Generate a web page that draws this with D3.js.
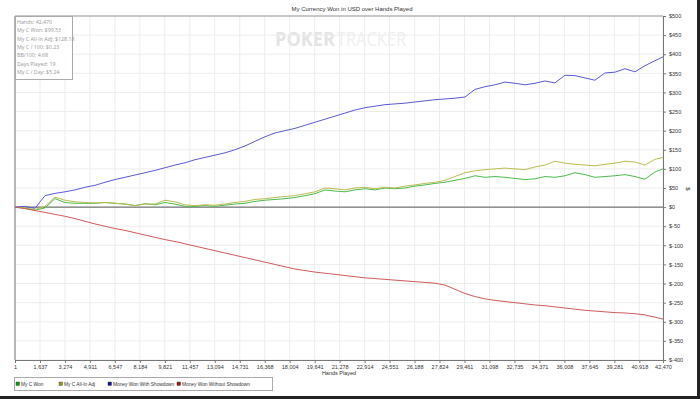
<!DOCTYPE html>
<html>
<head>
<meta charset="utf-8">
<script src="https://cdn.jsdelivr.net/npm/d3@7"></script>
<style>
  body { margin: 0; background: #fff; }
  svg { display: block; font-family: "Liberation Sans", Arial, sans-serif; }
</style>
</head>
<body>
<div id="chart"></div>
<script>
// hands sampled along the x axis
var hands = [1, 656, 1312, 1967, 2622, 3278, 3933, 4588, 5244, 5899, 6554, 7210, 7865, 8520, 9176, 9831,
    10486, 11142, 11797, 12452, 13108, 13763, 14418, 15074, 15729, 16384, 17040, 17695, 18350, 19006, 19661,
    20316, 20972, 21627, 22282, 22938, 23593, 24248, 24904, 25559, 26214, 26870, 27525, 28180, 28836, 29491,
    30146, 30802, 31457, 32112, 32768, 33423, 34078, 34734, 35389, 36044, 36700, 37355, 38010, 38666, 39321,
    39976, 40632, 41287, 41942, 42470];

var myCWon = [0, -3, -8, -2, 22, 12, 10, 10, 10, 12, 10, 8, 4, 9, 6, 12, 8, 2, 2, 4, 2, 5, 8, 10, 15, 18,
    20, 22, 25, 30, 35, 45, 42, 40, 45, 48, 45, 50, 48, 50, 55, 58, 62, 65, 70, 75, 82, 78, 80, 78, 75, 72,
    74, 80, 78, 82, 90, 85, 78, 80, 82, 85, 80, 73, 92, 100];

var myCAllInAdj = [0, -2, -6, 2, 26, 18, 14, 12, 11, 12, 10, 8, 4, 8, 8, 18, 14, 6, 4, 6, 5, 8, 12, 15, 20,
    22, 25, 28, 30, 35, 40, 50, 48, 45, 50, 52, 48, 52, 50, 55, 58, 62, 65, 70, 80, 90, 95, 98, 100, 102,
    100, 98, 105, 110, 120, 115, 112, 110, 108, 112, 115, 120, 118, 110, 125, 130];

var wonWithShowdown = [0, 2, -3, 30, 36, 40, 45, 52, 57, 65, 72, 78, 84, 90, 96, 103, 110, 116, 124, 130,
    136, 142, 150, 160, 172, 184, 194, 200, 206, 214, 222, 230, 238, 246, 254, 260, 264, 268, 270, 272, 275,
    278, 281, 283, 285, 288, 308, 315, 320, 327, 324, 320, 324, 330, 325, 345, 344, 338, 332, 351, 353, 362,
    354, 370, 383, 393];

var wonWithoutShowdown = [0, -4, -9, -14, -19, -24, -30, -37, -44, -50, -56, -61, -67, -73, -79, -85, -90,
    -96, -102, -108, -114, -120, -126, -132, -138, -144, -150, -156, -162, -166, -170, -173, -176, -179, -182,
    -185, -187, -189, -191, -193, -195, -197, -199, -204, -215, -226, -234, -240, -244, -247, -250, -253,
    -256, -258, -261, -264, -267, -270, -272, -274, -276, -277, -279, -282, -288, -293];

var xTicks = [1, 1637, 3274, 4911, 6547, 8184, 9821, 11457, 13094, 14731, 16368, 18004, 19641, 21278, 22914,
    24551, 26188, 27824, 29461, 31098, 32735, 34371, 36008, 37645, 39281, 40918, 42470];
var yTicks = [500, 450, 400, 350, 300, 250, 200, 150, 100, 50, 0, -50, -100, -150, -200, -250, -300, -350, -400];

var statLines = ["Hands: 42,470", "My C Won: $99.53", "My C All-In Adj: $128.18", "My C / 100: $0.23",
    "BB/100: 4.68", "Days Played: 19", "My C / Day: $5.24"];

var seriesNames = ["My C Won", "My C All-In Adj", "Money Won With Showdown", "Money Won Without Showdown"];
var seriesData = [myCWon, myCAllInAdj, wonWithShowdown, wonWithoutShowdown];
var lineColors = ["#4cbc4c", "#bcbc50", "#5a5ad2", "#d05a5a"];
var keyColors = ["#119911", "#999911", "#1111aa", "#aa1111"];

var width = 700, height = 399;
var plot = {left: 15, right: 663, top: 16, bottom: 360};

var x = d3.scaleLinear().domain([1, 42470]).range([plot.left, plot.right]);
var y = d3.scaleLinear().domain([-400, 500]).range([plot.bottom, plot.top]);

var svg = d3.select("#chart").append("svg")
    .attr("width", width)
    .attr("height", height);

svg.append("rect").attr("width", width).attr("height", height).attr("fill", "#fff");

// watermark
svg.append("text")
    .attr("x", 275).attr("y", 46)
    .attr("textLength", 60).attr("lengthAdjust", "spacingAndGlyphs")
    .attr("fill", "#e4e4e4")
    .style("font-size", "20px").style("font-weight", "bold")
    .style("font-family", "'Open Sans', 'Liberation Sans', sans-serif")
    .text("POKER");
svg.append("text")
    .attr("x", 337).attr("y", 46)
    .attr("textLength", 69).attr("lengthAdjust", "spacingAndGlyphs")
    .attr("fill", "#efefef")
    .style("font-size", "20px")
    .style("font-family", "'Open Sans', 'Liberation Sans', sans-serif")
    .text("TRACKER");

// grid
svg.append("g").selectAll("line").data(xTicks).enter().append("line")
    .attr("x1", function(d) { return x(d); }).attr("x2", function(d) { return x(d); })
    .attr("y1", plot.top).attr("y2", plot.bottom)
    .attr("stroke", "#ececec").attr("stroke-width", 1);
svg.append("g").selectAll("line").data(yTicks).enter().append("line")
    .attr("x1", plot.left).attr("x2", plot.right)
    .attr("y1", function(d) { return y(d); }).attr("y2", function(d) { return y(d); })
    .attr("stroke", "#ececec").attr("stroke-width", 1);

// plot frame
svg.append("line").attr("x1", plot.left).attr("x2", plot.right).attr("y1", plot.top).attr("y2", plot.top)
    .attr("stroke", "#999");
svg.append("line").attr("x1", plot.left).attr("x2", plot.right).attr("y1", y(0)).attr("y2", y(0))
    .attr("stroke", "#555");

// axes
var xAxis = d3.axisBottom(x).tickValues(xTicks).tickSize(3).tickFormat(d3.format(","));
var gx = svg.append("g")
    .attr("transform", "translate(0," + plot.bottom + ")")
    .call(xAxis);
gx.selectAll("text").style("font-size", "5.5px").attr("fill", "#333").attr("dy", "0.5em");

var yAxis = d3.axisRight(y).tickValues(yTicks).tickSize(3)
    .tickFormat(function(d) { return "$" + d; });
var gy = svg.append("g")
    .attr("transform", "translate(" + plot.right + ",0)")
    .call(yAxis);
gy.selectAll("text").style("font-size", "5.5px").attr("fill", "#333");

svg.selectAll(".domain").attr("stroke", "#777");
svg.selectAll(".tick line").attr("stroke", "#777");

svg.append("line").attr("x1", plot.left).attr("x2", plot.left).attr("y1", plot.top).attr("y2", plot.bottom)
    .attr("stroke", "#777");

// lines
var line = d3.line()
    .x(function(d, i) { return x(hands[i]); })
    .y(function(d) { return y(d); });

svg.append("g").selectAll("path").data(seriesData).enter().append("path")
    .attr("d", line)
    .attr("fill", "none")
    .attr("stroke", function(d, i) { return lineColors[i]; })
    .attr("stroke-width", 1);

// stats box
svg.append("rect").attr("x", 15.5).attr("y", 16.5).attr("width", 57).attr("height", 63)
    .attr("fill", "#fff").attr("fill-opacity", 0.85).attr("stroke", "#aaa");
svg.append("g").selectAll("text").data(statLines).enter().append("text")
    .attr("x", 17).attr("y", function(d, i) { return 24 + i * 8.3; })
    .attr("fill", "#999")
    .style("font-size", "5.3px")
    .style("font-family", "'Open Sans', sans-serif")
    .text(function(d) { return d; });

// title
svg.append("text").attr("x", 352).attr("y", 11)
    .style("text-anchor", "middle").style("font-size", "6px").attr("fill", "#333")
    .text("My Currency Won in USD over Hands Played");

svg.append("text").attr("x", (plot.left + plot.right) / 2).attr("y", 375)
    .style("text-anchor", "middle").style("font-size", "5.5px").attr("fill", "#333")
    .text("Hands Played");

svg.append("text").attr("transform", "translate(686,189) rotate(90)")
    .style("text-anchor", "middle").style("font-size", "6px").attr("fill", "#333")
    .text("$");

// legend
svg.append("rect").attr("x", 14.5).attr("y", 377.5).attr("width", 258).attr("height", 13)
    .attr("fill", "#fff").attr("stroke", "#aaa");
var keyX = [16, 59, 108, 177];
var keys = svg.append("g").selectAll("g").data(seriesNames).enter().append("g")
    .attr("transform", function(d, i) { return "translate(" + keyX[i] + ",382)"; });
keys.append("rect").attr("width", 3.5).attr("height", 3.5)
    .attr("fill", function(d, i) { return keyColors[i]; }).attr("stroke", "#333").attr("stroke-width", 0.4);
keys.append("text").attr("x", 5).attr("y", 3.6)
    .style("font-size", "4.8px").attr("fill", "#333")
    .text(function(d) { return d; });

// frame shadow right / bottom
svg.append("rect").attr("x", 697).attr("y", 0).attr("width", 3).attr("height", height).attr("fill", "#222");
svg.append("rect").attr("x", 0).attr("y", 396).attr("width", width).attr("height", 3).attr("fill", "#222");
</script>
</body>
</html>
